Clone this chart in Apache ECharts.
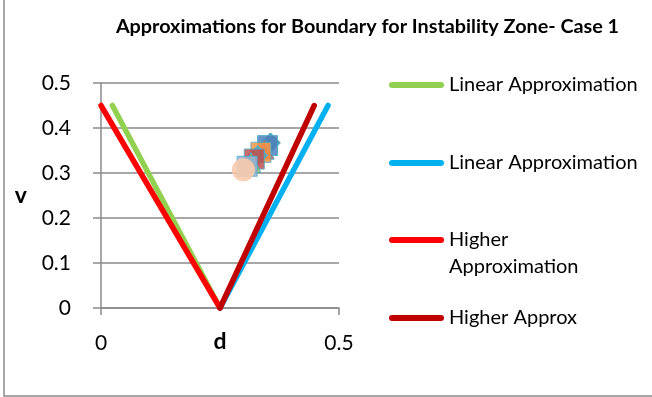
<!DOCTYPE html>
<html>
<head>
<meta charset="utf-8">
<script src="https://cdn.jsdelivr.net/npm/echarts@6/dist/echarts.min.js"></script>
<style>
  html, body { margin: 0; padding: 0; background: #fff; }
  #chart { width: 652px; height: 397px; }
</style>
</head>
<body>
<div id="chart"></div>
<script>
// Boundary lines of the instability zone, as [d, v] pairs
const linearLeft = [[0.024, 0.45], [0.25, 0]];
const linearRight = [[0.25, 0], [0.477, 0.45]];
const higherLeft = [[0, 0.45], [0.25, 0]];
const higherRight = [[0.25, 0], [0.448, 0.45]];

// Cluster of sample points inside the zone (drawn back to front)
const sampleD = [0.356, 0.350, 0.343, 0.336, 0.329, 0.322, 0.315, 0.307, 0.299];
const sampleV = [0.367, 0.361, 0.353, 0.346, 0.339, 0.331, 0.323, 0.315, 0.307];

const seriesNames = ['Linear Approximation', 'Linear Approximation ', 'Higher\nApproximation', 'Higher Approx'];
const yTicks = [0, 0.1, 0.2, 0.3, 0.4, 0.5];
const xTicks = [0, 0.5];

const FONT = 'Lato';
const GRAY = '#8a8a8a';
const lineColors = ['#92D050', '#00B0F0', '#FF0000', '#C00000'];
const sampleColors = ['#31859C', '#4F81BD', '#C0504D', '#F79646', '#4BACC6', '#C0504D', '#9BBB59', '#95B3D7', '#F8CBAD'];
const sampleShapes = ['diamond', 'rect', 'triangle', 'rect', 'diamond', 'rect', 'triangle', 'rect', 'circle'];

// Rounded bar used as the legend key
const LEGEND_KEY = 'path://M3,0 H52 A3,3 0 0 1 52,6 H3 A3,3 0 0 1 3,0 Z';

const chart = echarts.init(document.getElementById('chart'));

function lineSeries(name, data, color) {
  return {
    name: name,
    type: 'line',
    data: data,
    symbol: 'none',
    showSymbol: false,
    lineStyle: { color: color, width: 5.5, cap: 'round' },
    itemStyle: { color: color },
    animation: false
  };
}

const sampleData = sampleD.map((d, i) => {
  const front = i === sampleD.length - 1;
  return {
    value: [d, sampleV[i]],
    symbol: sampleShapes[i],
    symbolSize: front ? 23 : 20,
    itemStyle: {
      color: sampleColors[i],
      opacity: front ? 0.9 : 0.85,
      borderColor: '#4BACC6',
      borderWidth: front ? 0 : 1
    }
  };
});

// Each legend entry sits at its own height; the two-line one keeps its
// first line level with the key
const legendTops = [71.5, 149.5, 199.5, 304.5];
const legends = seriesNames.map((n, i) => ({
  data: [n],
  left: 389,
  top: legendTops[i],
  padding: 0,
  orient: 'vertical',
  icon: LEGEND_KEY,
  itemWidth: 55,
  itemHeight: 6,
  itemGap: 0,
  selectedMode: false,
  formatter: name => (name.indexOf('\n') >= 0 ? '\n' + name : name.trim()),
  textStyle: {
    fontFamily: FONT,
    fontSize: 20,
    color: '#000',
    lineHeight: 27
  }
}));

chart.setOption({
  animation: false,
  title: {
    text: 'Approximations for Boundary for Instability Zone- Case 1',
    left: 362.5,
    textAlign: 'center',
    top: 12,
    textStyle: { fontFamily: FONT, fontWeight: 'bold', fontSize: 19.8, color: '#000' }
  },
  legend: legends,
  grid: { left: 101, top: 83, width: 238, height: 225, containLabel: false },
  xAxis: {
    type: 'value',
    min: xTicks[0],
    max: xTicks[xTicks.length - 1],
    interval: 0.5,
    name: 'd',
    nameLocation: 'middle',
    nameGap: 22,
    nameMoveOverlap: false,
    nameTextStyle: { fontFamily: FONT, fontWeight: 'bold', fontSize: 23, color: '#000', verticalAlign: 'top' },
    axisLine: { lineStyle: { color: GRAY, width: 1.5 } },
    axisTick: { show: true, length: 7, lineStyle: { color: GRAY, width: 1.5 } },
    axisLabel: { fontFamily: FONT, fontSize: 21, color: '#000', margin: 25,
      formatter: v => String(Math.round(v * 10) / 10) },
    splitLine: { show: false }
  },
  yAxis: {
    type: 'value',
    min: yTicks[0],
    max: yTicks[yTicks.length - 1],
    interval: 0.1,
    name: 'v',
    nameLocation: 'middle',
    nameRotate: 0,
    nameGap: 74,
    nameMoveOverlap: false,
    nameTextStyle: { fontFamily: FONT, fontWeight: 'bold', fontSize: 23, color: '#000' },
    axisLine: { show: true, lineStyle: { color: GRAY, width: 1.5 } },
    axisTick: { show: true, length: 8, lineStyle: { color: GRAY, width: 1.5 } },
    axisLabel: { fontFamily: FONT, fontSize: 21, color: '#000', margin: 30,
      formatter: v => String(Math.round(v * 10) / 10) },
    splitLine: { show: true, lineStyle: { color: GRAY, width: 1.5 } }
  },
  series: [
    lineSeries(seriesNames[0], linearLeft, lineColors[0]),
    lineSeries(seriesNames[1], linearRight, lineColors[1]),
    lineSeries(seriesNames[2], higherLeft, lineColors[2]),
    lineSeries(seriesNames[3], higherRight, lineColors[3]),
    {
      name: 'samples',
      type: 'scatter',
      data: sampleData,
      animation: false,
      z: 3
    }
  ],
  graphic: [{
    type: 'rect',
    shape: { x: 4, y: -2, width: 650, height: 398 },
    style: { fill: 'none', stroke: GRAY, lineWidth: 1.5 },
    silent: true
  }]
});
</script>
</body>
</html>
